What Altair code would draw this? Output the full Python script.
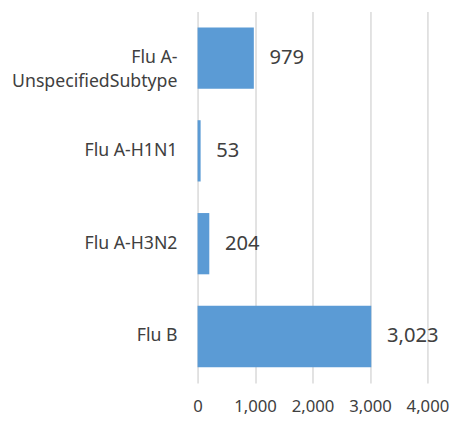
import altair as alt
import pandas as pd

categories = ["Flu A-|UnspecifiedSubtype", "Flu A-H1N1", "Flu A-H3N2", "Flu B"]
values = [979, 53, 204, 3023]
x_ticks = [0, 1000, 2000, 3000, 4000]

df = pd.DataFrame({"cat": categories, "val": values})

FONT = "Noto Sans"
TXT = "#404040"

y_enc = alt.Y("cat:N", sort=categories, title=None,
              scale=alt.Scale(paddingInner=0.34, paddingOuter=0.17),
              axis=alt.Axis(labelExpr="split(datum.label, '|')", labelFont=FONT,
                            labelFontSize=18, labelColor=TXT, labelPadding=21,
                            labelLimit=300, labelLineHeight=25, ticks=False,
                            domain=False, grid=False))
x_enc = alt.X("val:Q", title=None,
              scale=alt.Scale(domain=[0, 4000], nice=False),
              axis=alt.Axis(values=x_ticks, format=",.0f", labelFont=FONT, labelFontSize=17,
                            labelColor=TXT, labelPadding=16, ticks=False, domain=False,
                            labelOverlap=False, labelFlush=False,
                            grid=True, gridColor="#d9d9d9", gridWidth=1.5))

base = alt.Chart(df)
bars = base.mark_bar(color="#5b9bd5").encode(x=x_enc, y=y_enc)
text = base.mark_text(align="left", baseline="middle", dx=16, font=FONT,
                      fontSize=20.5, color=TXT).encode(
    x=x_enc, y=y_enc,
    text=alt.Text("val:Q", format=",.0f"))

chart = (bars + text).properties(
    width=234, height=378,
    autosize=alt.AutoSizeParams(type="none"),
    padding={"left": 193, "top": 0, "right": 24, "bottom": 30},
).configure_view(stroke=None)

chart.save("out.html", embed_options={"renderer": "svg", "actions": False})
